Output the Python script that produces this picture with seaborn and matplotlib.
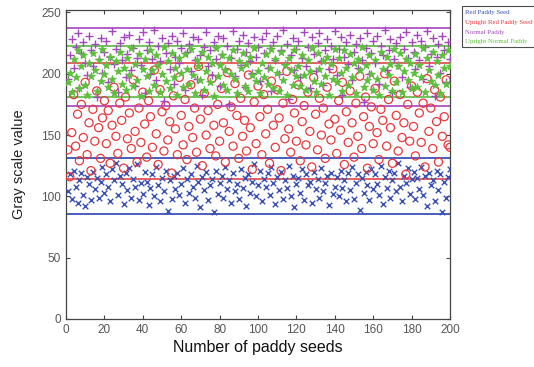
import numpy as np
import pandas as pd
import matplotlib
matplotlib.use("Agg")
import matplotlib.pyplot as plt
import seaborn as sns

# values (gray scale per seed, seeds 1..200)
red_paddy = [
    104, 118, 98, 121, 108, 95, 113, 119, 101, 92, 116, 110, 97, 120, 106, 115, 99, 112, 124, 103,
    118, 108, 96, 122, 113, 127, 101, 117, 110, 94, 119, 105, 123, 99, 114, 108, 126, 97, 111, 102,
    120, 112, 93, 107, 118, 100, 124, 109, 96, 115, 104, 121, 88, 113, 98, 117, 106, 119, 101, 110,
    123, 95, 114, 103, 118, 108, 99, 125, 112, 91, 116, 105, 120, 97, 109, 114, 87, 121, 102, 111,
    117, 99, 124, 106, 113, 95, 119, 104, 110, 98, 122, 107, 115, 92, 118, 103, 112, 126, 100, 109,
    121, 96, 114, 108, 119, 101, 124, 111, 94, 116, 105, 120, 98, 113, 107, 125, 100, 117, 91, 110,
    115, 103, 122, 97, 118, 109, 112, 95, 120, 106, 114, 99, 123, 104, 111, 117, 93, 119, 102, 108,
    116, 100, 121, 107, 113, 96, 119, 105, 124, 98, 111, 118, 89, 115, 103, 120, 109, 97, 122, 106,
    118, 110, 101, 125, 94, 116, 107, 121, 99, 113, 119, 104, 127, 108, 96, 117, 111, 123, 102, 114,
    120, 98, 115, 106, 124, 101, 117, 92, 119, 109, 113, 96, 121, 105, 118, 87, 112, 99, 116, 122,
]
upright_red = [
    138, 116, 152, 183, 141, 167, 129, 175, 148, 193, 134, 160, 121, 171, 145, 186, 156, 131, 164, 178,
    143, 170, 127, 158, 189, 149, 135, 176, 162, 123, 181, 147, 168, 139, 195, 153, 128, 172, 144, 185,
    159, 132, 178, 165, 140, 203, 151, 126, 187, 169, 137, 174, 146, 161, 119, 182, 155, 134, 197, 166,
    142, 179, 130, 157, 191, 148, 172, 136, 206, 163, 125, 184, 150, 170, 139, 196, 158, 133, 175, 145,
    188, 160, 128, 201, 153, 173, 141, 192, 166, 131, 180, 149, 162, 137, 199, 156, 122, 177, 143, 190,
    165, 134, 183, 151, 171, 127, 194, 158, 140, 187, 164, 121, 176, 147, 202, 155, 136, 179, 168, 145,
    191, 129, 161, 174, 142, 185, 153, 124, 197, 167, 138, 180, 150, 172, 131, 189, 159, 146, 204, 163,
    135, 178, 154, 193, 126, 169, 144, 186, 160, 132, 176, 149, 198, 139, 165, 181, 123, 157, 173, 143,
    188, 152, 130, 171, 162, 200, 141, 179, 156, 127, 194, 166, 137, 183, 148, 160, 118, 175, 145, 190,
    157, 133, 185, 168, 144, 176, 124, 196, 153, 172, 139, 187, 161, 128, 181, 149, 165, 195, 142, 140,
]
normal_paddy = [
    196, 215, 228, 205, 222, 233, 188, 217, 226, 209, 199, 231, 219, 206, 224, 181, 212, 229, 201, 218,
    227, 193, 214, 235, 208, 220, 185, 225, 211, 230, 197, 216, 232, 203, 221, 190, 213, 228, 207, 234,
    184, 219, 226, 200, 212, 236, 195, 223, 210, 229, 178, 217, 225, 204, 231, 192, 214, 227, 209, 221,
    233, 187, 218, 224, 202, 230, 211, 196, 228, 215, 183, 222, 234, 206, 219, 199, 226, 212, 231, 190,
    216, 229, 204, 223, 175, 213, 235, 198, 220, 227, 207, 232, 189, 218, 225, 210, 201, 230, 214, 222,
    194, 228, 217, 233, 205, 221, 186, 226, 211, 231, 200, 219, 236, 208, 224, 179, 215, 229, 203, 220,
    227, 197, 213, 234, 206, 222, 188, 230, 216, 202, 225, 233, 210, 191, 219, 228, 204, 223, 212, 235,
    199, 220, 230, 183, 214, 226, 208, 232, 195, 218, 224, 205, 229, 211, 177, 221, 233, 200, 217, 227,
    209, 231, 192, 223, 215, 236, 203, 219, 228, 185, 212, 225, 207, 230, 197, 220, 234, 213, 189, 226,
    218, 204, 232, 211, 227, 196, 222, 235, 206, 216, 229, 182, 214, 224, 201, 231, 219, 193, 226, 212,
]
upright_normal = [
    193, 201, 185, 212, 197, 219, 188, 206, 215, 191, 183, 209, 198, 217, 203, 186, 211, 194, 220, 200,
    207, 189, 214, 196, 184, 210, 202, 218, 192, 205, 187, 213, 199, 221, 190, 208, 195, 216, 182, 204,
    212, 198, 186, 219, 203, 191, 215, 207, 185, 200, 222, 194, 210, 188, 217, 197, 205, 183, 213, 201,
    189, 216, 204, 192, 220, 199, 184, 211, 206, 195, 218, 187, 202, 214, 193, 209, 182, 221, 198, 207,
    215, 191, 203, 187, 213, 200, 219, 196, 184, 210, 205, 217, 190, 208, 186, 214, 199, 221, 194, 202,
    184, 209, 197, 216, 192, 205, 220, 188, 212, 201, 186, 218, 195, 207, 183, 213, 203, 191, 219, 198,
    206, 190, 215, 199, 187, 211, 202, 221, 194, 185, 217, 204, 192, 210, 198, 214, 183, 208, 196, 220,
    193, 213, 201, 186, 219, 205, 191, 216, 197, 209, 184, 212, 203, 222, 189, 207, 195, 215, 200, 187,
    211, 196, 183, 218, 204, 190, 214, 199, 208, 186, 220, 193, 206, 217, 185, 202, 212, 195, 209, 188,
    201, 216, 189, 207, 197, 221, 185, 213, 203, 194, 218, 191, 210, 199, 184, 215, 205, 192, 219, 206,
]

series_names = ["Red Paddy Seed", "Upright Red Paddy Seed", "Normal Paddy", "Upright Normal Paddy"]
# threshold lines (low, high) per series
bounds = {
    "Red Paddy Seed": [86, 131],
    "Upright Red Paddy Seed": [114, 209],
    "Normal Paddy": [174, 237],
    "Upright Normal Paddy": [181, 223],
}

colors = {
    "Red Paddy Seed": "#3a50b4",
    "Upright Red Paddy Seed": "#e8383c",
    "Normal Paddy": "#a447bf",
    "Upright Normal Paddy": "#5cbf3c",
}
line_colors = {
    "Red Paddy Seed": "#4a5cc0",
    "Upright Red Paddy Seed": "#e86060",
    "Normal Paddy": "#b45cc8",
    "Upright Normal Paddy": "#70c45a",
}

seeds = np.arange(1, 201)
df = pd.DataFrame({
    "seed": np.tile(seeds, 4),
    "value": red_paddy + upright_red + normal_paddy + upright_normal,
    "kind": np.repeat(series_names, 200),
})

sns.set_style("ticks")
plt.rcParams["font.family"] = ["Liberation Sans", "DejaVu Sans"]

fig = plt.figure(figsize=(5.34, 3.67), dpi=100)
ax = fig.add_axes([0.1236, 0.1308, 0.7191, 0.842])

for name in series_names:
    for b in bounds[name]:
        ax.axhline(b, color=line_colors[name], lw=1.4, zorder=1)

sub = df[df.kind == "Red Paddy Seed"]
sns.scatterplot(data=sub, x="seed", y="value", ax=ax, marker="x", s=16,
                color=colors["Red Paddy Seed"], linewidth=1.0, label="Red Paddy Seed", zorder=3)
sub = df[df.kind == "Upright Red Paddy Seed"]
sns.scatterplot(data=sub, x="seed", y="value", ax=ax, marker="o", s=34,
                facecolor="none", edgecolor=colors["Upright Red Paddy Seed"], linewidth=0.9,
                label="Upright Red Paddy Seed", zorder=3)
sub = df[df.kind == "Normal Paddy"]
sns.scatterplot(data=sub, x="seed", y="value", ax=ax, marker="+", s=40,
                color=colors["Normal Paddy"], linewidth=1.0, label="Normal Paddy", zorder=3)
sub = df[df.kind == "Upright Normal Paddy"]
sns.scatterplot(data=sub, x="seed", y="value", ax=ax, marker="*", s=34,
                color=colors["Upright Normal Paddy"], edgecolor=colors["Upright Normal Paddy"],
                linewidth=0.6, label="Upright Normal Paddy", zorder=3)

ax.set_xlim(0, 200)
ax.set_ylim(0, 252)
ax.set_xticks(np.arange(0, 201, 20))
ax.set_yticks(np.arange(0, 251, 50))
ax.tick_params(direction="in", top=True, right=True, length=3, width=0.8,
               labelsize=8.5, labelcolor="#555555", color="#444444")
for sp in ax.spines.values():
    sp.set_color("#444444")
    sp.set_linewidth(0.9)

ax.set_xlabel("Number of paddy seeds", fontsize=11.5, color="#111111", labelpad=3)
ax.set_ylabel("Gray scale value", fontsize=10.5, color="#222222", labelpad=11)

leg = ax.legend(loc="upper left", bbox_to_anchor=(462 / 534, 1 - 6 / 367),
                bbox_transform=fig.transFigure, frameon=True, fancybox=False,
                handlelength=0, handletextpad=0, borderpad=0.45, labelspacing=0.6,
                prop={"family": "Liberation Serif", "size": 4.9}, borderaxespad=0)
leg.get_frame().set_edgecolor("#222222")
leg.get_frame().set_linewidth(0.8)
for h in leg.legend_handles:
    h.set_visible(False)
for t, name in zip(leg.get_texts(), series_names):
    t.set_color(colors[name])

fig.savefig("out.png", dpi=100)
